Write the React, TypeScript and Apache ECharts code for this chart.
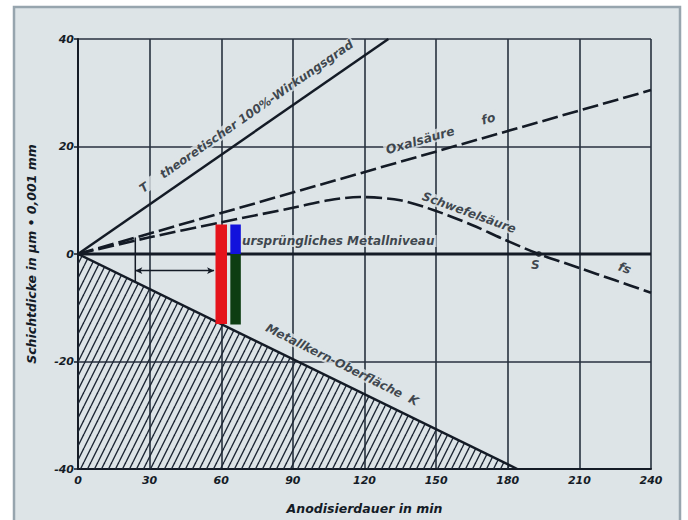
import React, { useEffect, useRef } from "react";
import * as echarts from "echarts";

// ---- data ----
const xTicks = [0, 30, 60, 90, 120, 150, 180, 210, 240];
const yTicks = [-40, -20, 0, 20, 40];

const theoretical = [[0, 0], [130, 40]];
const oxalic = [[0, 0], [240, 30.5]];
const sulfuric = [
  [0, 0], [30, 3.1], [60, 5.9], [90, 8.6], [105, 10.0], [118, 10.6], [135, 10.0],
  [150, 8.0], [165, 5.4], [178, 2.8], [193, 0], [210, -2.6], [225, -4.9], [240, -7.2],
];
const metalLevel = [[0, 0], [240, 0]];
const metalCore = [[0, 0], [184, -40]];
const redBar = [[60, 5.5], [60, -13.0]];
const blueBar = [[66, 5.5], [66, 0]];
const greenBar = [[66, 0], [66, -13.1]];
const bracketV = [[24, 3.05], [24, -5.2]];
const pointS = [[193, 0]];

const annotations = [
  { text: "T    theoretischer 100%-Wirkungsgrad", x: 70.5, y: 25.6, rotate: 34.8, size: 12 },
  { text: "Oxalsäure", x: 143.3, y: 21.2, rotate: 16, size: 12.5 },
  { text: "fo", x: 171.8, y: 25.2, rotate: 16, size: 12.5 },
  { text: "Schwefelsäure", x: 163.8, y: 7.7, rotate: -20, size: 12 },
  { text: "S", x: 191.5, y: -2.0, rotate: 0, size: 12 },
  { text: "fs", x: 229, y: -2.6, rotate: -20, size: 12.5 },
  { text: "ursprüngliches Metallniveau", x: 109, y: 2.4, rotate: 0, size: 12 },
  { text: "Metallkern-Oberfläche  K", x: 110.6, y: -20.6, rotate: -26.5, size: 12 },
];

const BG = "#dde4e7";
const INK = "#141b26";
const GRIDC = "#27313f";
const FONT = "DejaVu Sans";

function makeHatch(): HTMLCanvasElement {
  const c = document.createElement("canvas");
  c.width = 7;
  c.height = 14;
  const ctx = c.getContext("2d")!;
  ctx.strokeStyle = "#1c2634";
  ctx.lineWidth = 1.4;
  for (const off of [-7, 0, 7]) {
    ctx.beginPath();
    ctx.moveTo(off, 14);
    ctx.lineTo(off + 7, 0);
    ctx.stroke();
  }
  return c;
}

export default function App() {
  const ref = useRef<HTMLDivElement>(null);

  useEffect(() => {
    if (!ref.current) return;
    const chart = echarts.init(ref.current, undefined, { renderer: "svg" });
    const hatch = makeHatch();
    const lineSeries = (name: string, data: number[][], style: any, extra: any = {}) => ({
      type: "line",
      name,
      data,
      symbol: "none",
      silent: true,
      lineStyle: { color: INK, width: 2.2, ...style },
      z: 3,
      ...extra,
    });

    chart.setOption({
      animation: false,
      backgroundColor: "#ffffff",
      graphic: [
        {
          type: "rect",
          z: -10,
          shape: { x: 14, y: 7, width: 666, height: 540 },
          style: { fill: BG, stroke: "#97a5ae", lineWidth: 2.5 },
        },
      ],
      grid: { left: 78, right: 37, top: 39, bottom: 50 },
      xAxis: {
        type: "value",
        min: xTicks[0],
        max: xTicks[xTicks.length - 1],
        interval: 30,
        name: "Anodisierdauer in min",
        nameLocation: "middle",
        nameGap: 33,
        nameTextStyle: { fontFamily: FONT, fontStyle: "italic", fontWeight: "bold", fontSize: 12.5, color: INK },
        axisLine: { onZero: false, lineStyle: { color: INK, width: 2 } },
        axisTick: { show: false },
        axisLabel: { fontFamily: FONT, fontStyle: "italic", fontWeight: "bold", fontSize: 11, color: INK, margin: 6 },
        splitLine: { show: true, lineStyle: { color: GRIDC, width: 1.6 } },
      },
      yAxis: {
        type: "value",
        min: yTicks[0],
        max: yTicks[yTicks.length - 1],
        interval: 20,
        name: "Schichtdicke in µm • 0,001 mm",
        nameLocation: "middle",
        nameGap: 40,
        nameRotate: 90,
        nameTextStyle: { fontFamily: FONT, fontStyle: "italic", fontWeight: "bold", fontSize: 12.5, color: INK },
        axisLine: { show: true, onZero: false, lineStyle: { color: INK, width: 2 } },
        axisTick: { show: true, length: 4, lineStyle: { color: INK, width: 1.5 } },
        axisLabel: { fontFamily: FONT, fontStyle: "italic", fontWeight: "bold", fontSize: 11, color: INK, margin: 4 },
        splitLine: { show: true, lineStyle: { color: GRIDC, width: 1.6 } },
      },
      series: [
        lineSeries("Metallkern-Oberfläche K", metalCore, { width: 2.5 }, {
          areaStyle: { origin: "start", color: { image: hatch, repeat: "repeat" }, opacity: 1 },
          z: 2,
        }),
        lineSeries("Theoretisch", theoretical, { width: 2.5 }),
        lineSeries("Oxalsäure", oxalic, { type: [16, 5], width: 2.6 }),
        lineSeries("Schwefelsäure", sulfuric, { type: [16, 5], width: 2.6 }, { smooth: 0.3 }),
        lineSeries("Metallniveau", metalLevel, { width: 3 }),
        lineSeries("Klammer", bracketV, { width: 1.5 }, {
          markLine: {
            silent: true,
            symbol: ["arrow", "arrow"],
            symbolSize: [5, 7],
            label: { show: false },
            lineStyle: { color: INK, width: 1.3, type: "solid" },
            data: [[{ coord: [24, -3.1] }, { coord: [57, -3.1] }]],
          },
        }),
        {
          type: "scatter",
          data: pointS,
          symbolSize: 6,
          itemStyle: { color: INK },
          silent: true,
          z: 4,
        },
        lineSeries("rot", redBar, { color: "#e5131b", width: 11.5, cap: "butt" }, { z: 6 }),
        lineSeries("blau", blueBar, { color: "#1212dc", width: 10.5, cap: "butt" }, { z: 6 }),
        lineSeries("grün", greenBar, { color: "#0d3d12", width: 10.5, cap: "butt" }, { z: 6 }),
        {
          type: "scatter",
          silent: true,
          symbolSize: 0.1,
          itemStyle: { color: "rgba(0,0,0,0)" },
          z: 5,
          data: annotations.map((a) => ({
            value: [a.x, a.y],
            label: {
              show: true,
              position: "inside",
              formatter: a.text,
              rotate: a.rotate,
              fontSize: a.size,
              fontFamily: FONT,
              fontStyle: "italic",
              fontWeight: "bold",
              color: INK,
              backgroundColor: BG,
              padding: [0, 2],
            },
          })),
        },
      ],
    });
    return () => chart.dispose();
  }, []);

  return (
    <div
      ref={ref}
      style={{ position: "fixed", left: 0, top: 0, width: 688, height: 520 }}
    />
  );
}
